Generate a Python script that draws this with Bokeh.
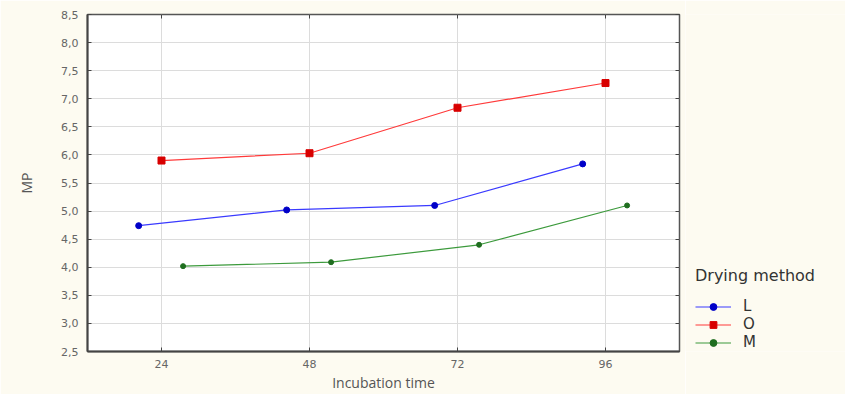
from bokeh.plotting import figure
from bokeh.layouts import row
from bokeh.models import (FixedTicker, CustomJSTickFormatter, Legend, LegendItem,
                          LinearAxis, Range1d)
from bokeh.embed import file_html
from bokeh.resources import INLINE

# ---- data ----
times = [24, 48, 72, 96]
x_tick_labels = ["24", "48", "72", "96"]
y_ticks = [2.5, 3.0, 3.5, 4.0, 4.5, 5.0, 5.5, 6.0, 6.5, 7.0, 7.5, 8.0, 8.5]
series_names = ["L", "O", "M"]
L_values = [4.74, 5.02, 5.10, 5.84]
O_values = [5.90, 6.03, 6.84, 7.28]
M_values = [4.02, 4.09, 4.40, 5.10]
# horizontal jitter of each series around the time (in hours)
offsets = {"L": -3.7, "O": 0.0, "M": 3.5}

values = {"L": L_values, "O": O_values, "M": M_values}
line_colors = {"L": "#3a3aff", "O": "#ff3a3a", "M": "#3c9a3c"}
marker_colors = {"L": "#0000c8", "O": "#d80000", "M": "#1f6e1f"}
markers = {"L": "circle", "O": "square", "M": "circle"}
marker_sizes = {"L": 6, "O": 7, "M": 5}

CREAM = "#fdfbf1"

p = figure(width=685, height=394, output_backend="svg", toolbar_location=None,
           x_range=Range1d(12, 108), y_range=Range1d(2.5, 8.5),
           min_border_left=87, min_border_right=6, min_border_top=14,
           min_border_bottom=32)

p.background_fill_color = "white"
p.border_fill_color = CREAM
p.outline_line_color = "#555555"
p.outline_line_width = 1.5

tick_font = "DejaVu Sans"
label_color = "#666666"

p.xaxis.ticker = FixedTicker(ticks=times)
p.xaxis.major_label_overrides = {t: s for t, s in zip(times, x_tick_labels)}
p.yaxis.ticker = FixedTicker(ticks=y_ticks)
p.yaxis.formatter = CustomJSTickFormatter(code="return tick.toFixed(1).replace('.', ',');")

for ax in (p.xaxis[0], p.yaxis[0]):
    ax.axis_line_color = "#444444"
    ax.axis_line_width = 2
    ax.major_tick_in = 4
    ax.major_tick_out = 0
    ax.minor_tick_line_color = None
    ax.major_tick_line_color = "#444444"
    ax.major_label_text_font = tick_font
    ax.major_label_text_font_size = "11px"
    ax.major_label_text_color = label_color
    ax.axis_label_text_font = "Open Sans"
    ax.axis_label_text_font_size = "14px"
    ax.axis_label_text_font_style = "normal"
    ax.axis_label_text_color = "#555555"

p.xaxis.axis_label = "Incubation time"
p.xaxis.major_label_standoff = 8
p.xaxis.axis_label_standoff = 2
p.yaxis.axis_label = "MP"
p.yaxis.major_label_standoff = 9
p.yaxis.axis_label_standoff = 22

# top and right axes carrying only inward ticks
top_ax = LinearAxis(ticker=FixedTicker(ticks=times), major_label_text_font_size="0px",
                    major_tick_in=4, major_tick_out=0, minor_tick_line_color=None,
                    axis_line_color=None, major_tick_line_color="#444444",
                    major_label_standoff=0)
right_ax = LinearAxis(ticker=FixedTicker(ticks=y_ticks), major_label_text_font_size="0px",
                      major_tick_in=4, major_tick_out=0, minor_tick_line_color=None,
                      axis_line_color=None, major_tick_line_color="#444444",
                      major_label_standoff=0)
p.add_layout(top_ax, "above")
p.add_layout(right_ax, "right")

p.xgrid.grid_line_color = "#dcdcdc"
p.ygrid.grid_line_color = "#dcdcdc"

# legend panel: a second, axis-less figure to the right
lg = figure(width=160, height=394, output_backend="svg", toolbar_location=None,
            x_range=Range1d(0, 1), y_range=Range1d(0, 1),
            x_axis_location=None, y_axis_location=None,
            min_border=0, min_border_left=0, min_border_right=0,
            min_border_top=0, min_border_bottom=0)
lg.grid.visible = False
lg.outline_line_color = None
lg.background_fill_color = CREAM
lg.border_fill_color = CREAM

nan = float("nan")
items = []
for name in series_names:
    xs = [t + offsets[name] for t in times]
    ys = values[name]
    p.line(xs, ys, line_color=line_colors[name], line_width=1.2)
    p.scatter(xs, ys, marker=markers[name], size=marker_sizes[name],
              fill_color=marker_colors[name], line_color=marker_colors[name])
    # key glyphs (not drawn in the panel: NaN data) for the legend
    kl = lg.line([nan], [nan], line_color=line_colors[name], line_width=1.2)
    ks = lg.scatter([nan], [nan], marker=markers[name], size=marker_sizes[name],
                    fill_color=marker_colors[name], line_color=marker_colors[name])
    items.append(LegendItem(label=name, renderers=[kl, ks]))

legend = Legend(items=items, location=(10, 0), title="Drying method",
                title_text_font="DejaVu Sans", title_text_font_size="16px",
                title_text_font_style="normal", title_text_color="#333333",
                title_standoff=12,
                label_text_font="DejaVu Sans", label_text_font_size="15px",
                label_text_color="#333333",
                glyph_width=36, glyph_height=17, label_height=17, spacing=0,
                label_standoff=12, padding=0, margin=0,
                border_line_color=None, background_fill_alpha=0)
lg.add_layout(legend, "center")

layout = row(p, lg)
open("out.html", "w").write(file_html(layout, INLINE))
